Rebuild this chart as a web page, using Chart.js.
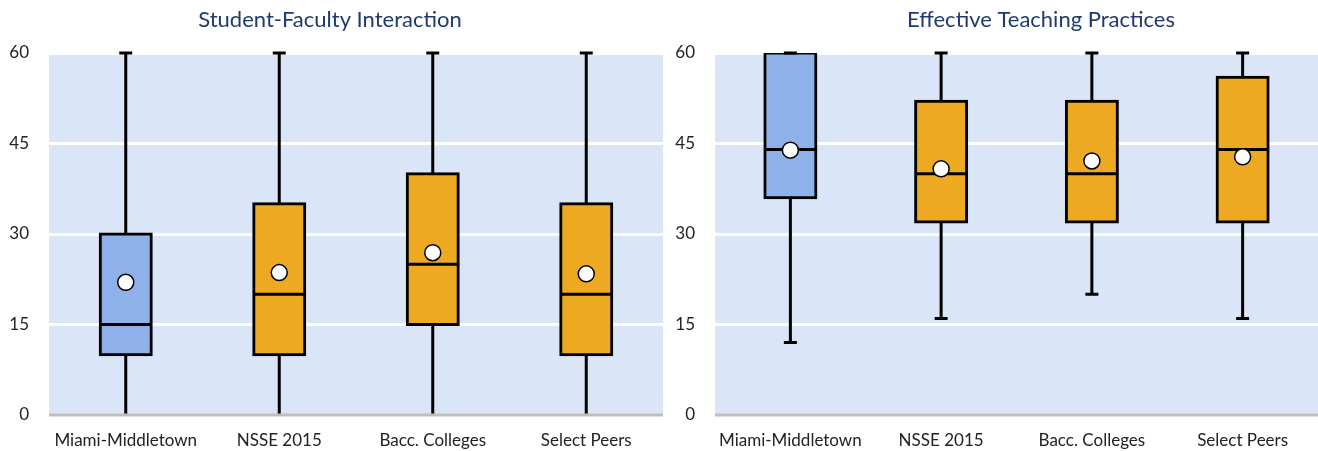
<!DOCTYPE html>
<html>
<head>
<meta charset="utf-8">
<script src="https://cdn.jsdelivr.net/npm/chart.js@4.4.0/dist/chart.umd.min.js"></script>
<style>
  html, body { margin: 0; padding: 0; background: #fff; overflow: hidden; }
  #wrap { position: relative; width: 1318px; height: 451px; }
  .panel { position: absolute; top: 0; height: 451px; }
  #left { left: 0; width: 663px; }
  #right { left: 664px; width: 654px; }
</style>
</head>
<body>
<div id="wrap">
  <div class="panel" id="left"><canvas id="chartLeft"></canvas></div>
  <div class="panel" id="right"><canvas id="chartRight"></canvas></div>
</div>
<script>
const groups = ['Miami-Middletown', 'NSSE 2015', 'Bacc. Colleges', 'Select Peers'];
const yTicks = [0, 15, 30, 45, 60];

// Student-Faculty Interaction
const sfMin = [0, 0, 0, 0];
const sfQ1 = [10, 10, 15, 10];
const sfMedian = [15, 20, 25, 20];
const sfQ3 = [30, 35, 40, 35];
const sfMax = [60, 60, 60, 60];
const sfMean = [22.0, 23.6, 26.9, 23.4];

// Effective Teaching Practices
const etMin = [12, 16, 20, 16];
const etQ1 = [36, 32, 32, 32];
const etMedian = [44, 40, 40, 44];
const etQ3 = [60, 52, 52, 56];
const etMax = [60, 60, 60, 60];
const etMean = [43.9, 40.8, 42.1, 42.8];

const BLUE = '#8FB1E9';
const ORANGE = '#EEA922';
const boxColors = [BLUE, ORANGE, ORANGE, ORANGE];
const FONT = 'Lato, "Noto Sans", sans-serif';

// light blue plot background
const plotBg = {
    id: 'plotBg',
    beforeDraw(chart) {
        const a = chart.chartArea;
        const ctx = chart.ctx;
        ctx.save();
        ctx.fillStyle = '#DAE5F7';
        ctx.fillRect(a.left, a.top, a.right - a.left, a.bottom - a.top);
        ctx.restore();
    }
};

// whiskers + median line, drawn right after the boxes (before the means)
const boxDetails = {
    id: 'boxDetails',
    afterDatasetDraw(chart, args, opts) {
        if (args.index !== 0) return;
        const ctx = chart.ctx;
        const x = chart.scales.x;
        const y = chart.scales.y;
        const bars = chart.getDatasetMeta(0).data;
        ctx.save();
        ctx.strokeStyle = '#000';
        ctx.lineWidth = 3;
        ctx.lineCap = 'butt';
        opts.median.forEach((m, i) => {
            const cx = x.getPixelForValue(i);
            const half = bars[i].width / 2;
            const lo = chart.data.datasets[0].data[i][0];
            const hi = chart.data.datasets[0].data[i][1];
            const yMax = y.getPixelForValue(opts.max[i]);
            const yMin = y.getPixelForValue(opts.min[i]);
            ctx.beginPath();
            // median
            ctx.moveTo(cx - half, y.getPixelForValue(m));
            ctx.lineTo(cx + half, y.getPixelForValue(m));
            // whiskers
            ctx.moveTo(cx, y.getPixelForValue(hi));
            ctx.lineTo(cx, yMax);
            ctx.moveTo(cx, y.getPixelForValue(lo));
            ctx.lineTo(cx, yMin);
            // caps (none where the whisker sits on the baseline)
            ctx.moveTo(cx - 6.5, yMax);
            ctx.lineTo(cx + 6.5, yMax);
            if (opts.min[i] > y.min) {
                ctx.moveTo(cx - 6.5, yMin);
                ctx.lineTo(cx + 6.5, yMin);
            }
            ctx.stroke();
        });
        ctx.restore();
    }
};

// grey baseline and panel title
const frame = {
    id: 'frame',
    afterDraw(chart, args, opts) {
        const a = chart.chartArea;
        const ctx = chart.ctx;
        ctx.save();
        ctx.strokeStyle = '#BFBFBF';
        ctx.lineWidth = 3;
        ctx.beginPath();
        ctx.moveTo(a.left, a.bottom);
        ctx.lineTo(a.right, a.bottom);
        ctx.stroke();
        ctx.fillStyle = '#1F3B6E';
        ctx.font = '22px ' + FONT;
        ctx.textAlign = 'center';
        ctx.textBaseline = 'middle';
        ctx.fillText(opts.text, opts.x, 20);
        ctx.restore();
    }
};

function makeChart(id, title, titleX, yWidth, mins, q1s, meds, q3s, maxs, means) {
    return new Chart(document.getElementById(id), {
        type: 'bar',
        data: {
            labels: groups,
            datasets: [{
                data: q1s.map((q, i) => [q, q3s[i]]),
                backgroundColor: boxColors,
                borderColor: '#000',
                borderWidth: 3,
                borderSkipped: false,
                inflateAmount: 1.5,
                barThickness: 51,
                order: 1
            }, {
                type: 'line',
                data: means,
                showLine: false,
                pointRadius: 8,
                pointBackgroundColor: '#fff',
                pointBorderColor: '#000',
                pointBorderWidth: 1.5,
                order: 0
            }]
        },
        options: {
            responsive: true,
            maintainAspectRatio: false,
            animation: false,
            layout: { autoPadding: false, padding: { top: 53, left: 0, right: 0, bottom: 0 } },
            plugins: {
                legend: { display: false },
                tooltip: { enabled: false },
                boxDetails: { min: mins, median: meds, max: maxs },
                frame: { text: title, x: titleX }
            },
            scales: {
                x: {
                    grid: { display: false },
                    border: { display: false },
                    ticks: { color: '#222', font: { family: FONT, size: 17 }, padding: 7 },
                    afterFit(s) { s.height = 36; }
                },
                y: {
                    min: 0,
                    max: 60,
                    afterBuildTicks(s) { s.ticks = yTicks.map(v => ({ value: v })); },
                    grid: {
                        color: c => c.tick && c.tick.value === 0 ? 'rgba(0,0,0,0)' : '#fff',
                        lineWidth: 3,
                        drawTicks: false
                    },
                    border: { display: false },
                    ticks: { color: '#222', font: { family: FONT, size: 17 }, padding: 20 },
                    afterFit(s) { s.width = yWidth; }
                }
            }
        },
        plugins: [plotBg, boxDetails, frame]
    });
}

makeChart('chartLeft', 'Student-Faculty Interaction', 330, 49,
    sfMin, sfQ1, sfMedian, sfQ3, sfMax, sfMean);
makeChart('chartRight', 'Effective Teaching Practices', 377, 51,
    etMin, etQ1, etMedian, etQ3, etMax, etMean);
</script>
</body>
</html>
